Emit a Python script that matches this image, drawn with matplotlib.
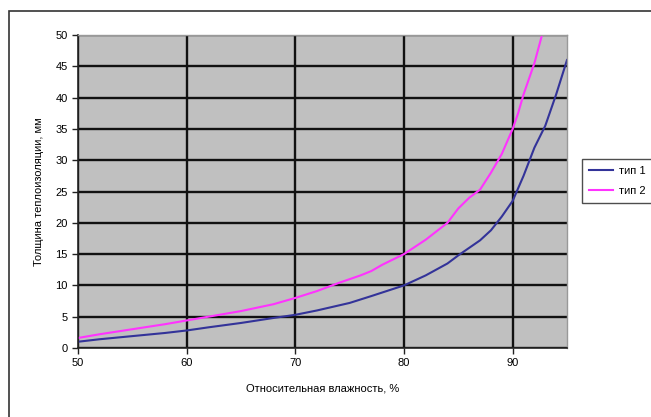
import matplotlib
matplotlib.use("Agg")
import matplotlib.pyplot as plt
from matplotlib.patches import Rectangle

humidity1 = [50, 52, 55, 58, 60, 62, 65, 68, 70, 72, 75, 77, 80, 82, 84, 85, 86, 87, 88, 89, 90, 91, 92, 93, 94, 95]
type1 = [1.0, 1.4, 1.9, 2.4, 2.8, 3.3, 4.0, 4.8, 5.3, 6.0, 7.2, 8.3, 10.0, 11.6, 13.5, 14.8, 16.0, 17.2, 18.8, 21.0, 23.5, 27.5, 32.0, 35.5, 40.5, 46.0]

humidity2 = [50, 52, 55, 58, 60, 62, 65, 68, 70, 72, 74, 76, 77, 78, 80, 82, 84, 85, 86, 87, 88, 89, 90, 90.5, 91, 92, 92.7]
type2 = [1.6, 2.2, 3.0, 3.8, 4.4, 5.0, 5.9, 7.0, 8.0, 9.1, 10.4, 11.6, 12.3, 13.3, 15.0, 17.3, 20.0, 22.3, 24.0, 25.3, 28.0, 31.0, 35.0, 37.5, 40.5, 45.5, 50.0]

series_names = ["тип 1", "тип 2"]
x_ticks = [50, 60, 70, 80, 90]
y_ticks = [0, 5, 10, 15, 20, 25, 30, 35, 40, 45, 50]
x_label = "Относительная влажность, %"
y_label = "Толщина теплоизоляции, мм"

plt.rcParams['font.family'] = ['Liberation Sans', 'DejaVu Sans']

fig = plt.figure(figsize=(6.51, 4.17), dpi=100)
fig.patch.set_facecolor("white")
fig.patches.append(Rectangle((9/651, -0.01), 1.0, 1 - 11/417 + 0.01, transform=fig.transFigure,
                             fill=False, edgecolor="#333333", linewidth=1.2))

ax = fig.add_axes([78/651, 69/417, 489/651, 313/417])
ax.set_facecolor("#c0c0c0")
ax.plot(humidity1, type1, color="#333399", lw=1.5, label=series_names[0], solid_joinstyle="round")
ax.plot(humidity2, type2, color="#ff33ff", lw=1.5, label=series_names[1], solid_joinstyle="round")

ax.set_xlim(50, 95)
ax.set_ylim(0, 50)
ax.set_xticks(x_ticks)
ax.set_yticks(y_ticks)
ax.grid(True, color="#111111", linewidth=1.7)
ax.set_axisbelow(True)
ax.tick_params(axis="both", labelsize=8, length=4, width=1, color="#222222", direction="out")
for s in ["top", "right"]:
    ax.spines[s].set_color("#999999")
    ax.spines[s].set_linewidth(1)
for s in ["left", "bottom"]:
    ax.spines[s].set_color("#222222")
    ax.spines[s].set_linewidth(1.2)

ax.set_xlabel(x_label, fontsize=8, labelpad=11)
ax.set_ylabel(y_label, fontsize=8, labelpad=8)

leg = ax.legend(loc="center left", bbox_to_anchor=(504/489, 0.534), fontsize=8,
                frameon=True, fancybox=False, edgecolor="#222222", handlelength=2.2,
                borderpad=0.6, labelspacing=0.95, handletextpad=0.5, borderaxespad=0)
leg.get_frame().set_linewidth(1.0)

fig.savefig("out.png", dpi=100, facecolor="white")
